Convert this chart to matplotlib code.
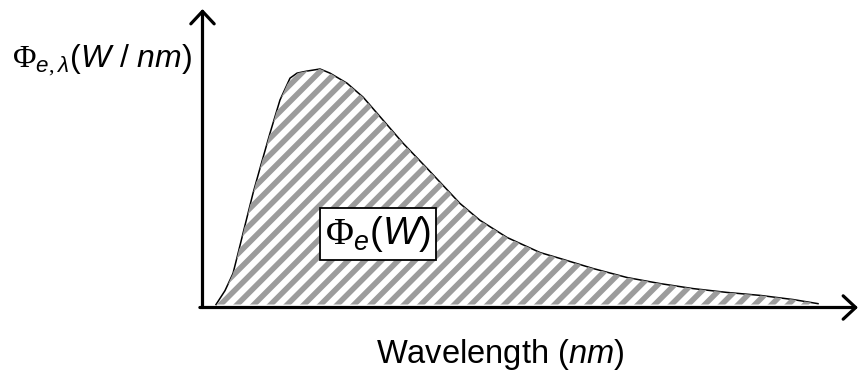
import matplotlib.pyplot as plt
import numpy as np
from matplotlib.collections import LineCollection
from matplotlib.transforms import IdentityTransform

plt.rcParams['font.family'] = ['Liberation Sans', 'DejaVu Sans']
plt.rcParams['mathtext.fontset'] = 'custom'
plt.rcParams['mathtext.rm'] = 'Liberation Serif'
plt.rcParams['mathtext.it'] = 'Liberation Sans:italic'
plt.rcParams['mathtext.sf'] = 'Liberation Sans'

# spectral flux curve (arbitrary units)
wavelength = [2.06, 3.43, 4.65, 5.42, 6.18, 7.70, 8.77, 10.30, 11.82, 13.35,
              14.42, 15.94, 17.93, 19.45, 22.04, 24.49, 27.54, 30.59, 34.25,
              39.28, 42.33, 46.45, 51.49, 54.54, 59.57, 64.76, 69.79, 74.83,
              80.01, 85.05, 90.08, 93.90]
flux = [0.0, 0.047, 0.105, 0.173, 0.241, 0.376, 0.461, 0.580, 0.692, 0.766,
        0.783, 0.790, 0.797, 0.783, 0.749, 0.702, 0.624, 0.546, 0.461,
        0.342, 0.285, 0.227, 0.176, 0.156, 0.122, 0.0915, 0.071, 0.054,
        0.041, 0.031, 0.017, 0.003]

y_label = r'$\Phi_{e,\lambda}$($W$ / $nm$)'
x_label = r'Wavelength ($nm$)'
area_label = r'$\Phi_e$($W$)'

if __name__ == '__main__':
    fig = plt.figure(figsize=(8.59, 3.74), dpi=100)
    ax = fig.add_axes([202.5 / 859, (374 - 307.5) / 374,
                       (858 - 202.5) / 859, (307.5 - 9) / 374])
    ax.set_xlim(0, 100)
    ax.set_ylim(-0.01, 1)
    ax.axis('off')

    x = np.array(wavelength)
    y = np.array(flux)
    area = ax.fill_between(x, y, 0, facecolor='white', linewidth=0)

    # 45度灰色斜纹，按像素间距绘制并裁剪到积分区域内
    step = 16.7
    offsets = np.arange(-400, 900, step)
    stripes = [[(c, 0), (c + 400, 400)] for c in offsets]
    hatch = LineCollection(stripes, colors='#9c9c9c', linewidths=4.0,
                           transform=IdentityTransform())
    fig.add_artist(hatch)
    hatch.set_clip_path(area.get_paths()[0], area.get_transform())

    ax.plot(x, y, color='black', lw=1.1)

    # 坐标轴箭头
    arrow = dict(arrowstyle='->,head_length=0.45,head_width=0.42',
                 lw=2.3, color='black', shrinkA=0, shrinkB=0,
                 mutation_scale=20)
    ax.annotate('', xy=(0, 1), xytext=(0, 0), xycoords='axes fraction',
                arrowprops=arrow, annotation_clip=False)
    ax.annotate('', xy=(1, 0), xytext=(-0.004, 0), xycoords='axes fraction',
                arrowprops=arrow, annotation_clip=False)

    fig.text(12 / 859, 1 - 60 / 374, y_label, fontsize=23,
             ha='left', va='center')
    fig.text(500 / 859, 1 - 355 / 374, x_label, fontsize=23.5,
             ha='center', va='center')
    fig.text(378 / 859, 1 - 234 / 374, area_label, fontsize=27.5,
             ha='center', va='center',
             bbox=dict(facecolor='white', edgecolor='black', lw=1.3,
                       boxstyle='square,pad=0.15'))

    fig.savefig('out.png', dpi=100)
